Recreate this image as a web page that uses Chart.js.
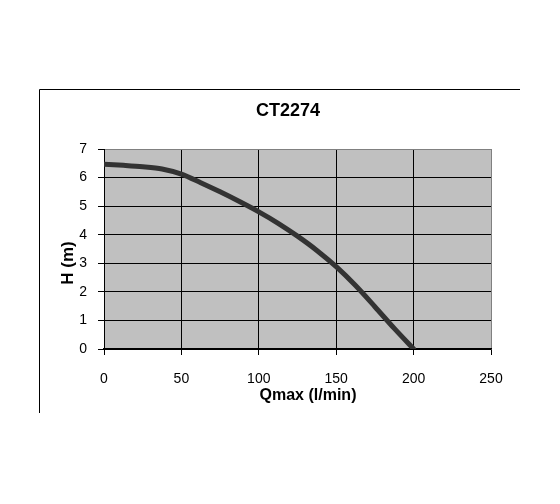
<!DOCTYPE html>
<html>
<head>
<meta charset="utf-8">
<script src="https://cdn.jsdelivr.net/npm/chart.js@4/dist/chart.umd.min.js"></script>
<style>
  html, body { margin: 0; padding: 0; background: #fff; }
  #wrap { width: 560px; height: 504px; }
</style>
</head>
<body>
<div id="wrap"><canvas id="pumpChart" width="560" height="504"></canvas></div>
<script>
// pump curve CT2274
const flowRates = [0, 12.5, 25, 37.5, 50, 62.5, 75, 87.5, 100, 112.5, 125, 137.5, 150, 162.5, 175, 187.5, 200];
const heads = [6.47, 6.43, 6.38, 6.3, 6.12, 5.82, 5.5, 5.16, 4.8, 4.4, 3.95, 3.45, 2.88, 2.22, 1.48, 0.72, 0];
const xTicks = [0, 50, 100, 150, 200, 250];
const yTicks = [0, 1, 2, 3, 4, 5, 6, 7];

const chartTitle = "CT2274";
const xTitle = "Qmax (l/min)";
const yTitle = "H (m)";

const FONT = "'Liberation Sans', Arial, sans-serif";

// white page, the two frame lines, grey plot area, titles
const framePlugin = {
  id: "frame",
  beforeDraw(chart) {
    const { ctx, chartArea: a } = chart;
    ctx.save();
    ctx.fillStyle = "#fff";
    ctx.fillRect(0, 0, chart.width, chart.height);
    ctx.strokeStyle = "#000";
    ctx.lineWidth = 1;
    ctx.beginPath();
    ctx.moveTo(39.5, 413);
    ctx.lineTo(39.5, 89.5);
    ctx.lineTo(520, 89.5);
    ctx.stroke();
    ctx.fillStyle = "#c0c0c0";
    ctx.fillRect(a.left, a.top, a.right - a.left, a.bottom - a.top);
    ctx.restore();
  },
  afterDraw(chart) {
    const { ctx } = chart;
    ctx.save();
    ctx.fillStyle = "#000";
    ctx.textAlign = "center";
    ctx.textBaseline = "middle";
    ctx.font = "bold 18px " + FONT;
    ctx.fillText(chartTitle, 288, 111);
    ctx.font = "bold 16px " + FONT;
    ctx.fillText(xTitle, 308, 396);
    ctx.font = "bold 17px " + FONT;
    ctx.translate(68, 263);
    ctx.rotate(-Math.PI / 2);
    ctx.fillText(yTitle, 0, 0);
    ctx.restore();
  },
};

const gridColor = (edge) => (ctx) => (ctx.tick && ctx.tick.value === edge ? "#808080" : "#000");

new Chart(document.getElementById("pumpChart"), {
  type: "scatter",
  data: {
    datasets: [{
      data: flowRates.map((q, i) => ({ x: q, y: heads[i] })),
      showLine: true,
      borderColor: "#333",
      borderWidth: 5,
      borderCapStyle: "round",
      tension: 0.3,
      pointRadius: 0,
      pointHoverRadius: 0,
    }],
  },
  options: {
    responsive: false,
    animation: false,
    events: [],
    layout: { padding: { top: 149, right: 69, left: 0, bottom: 0 } },
    plugins: {
      legend: { display: false },
      tooltip: { enabled: false },
      title: { display: false },
    },
    scales: {
      x: {
        type: "linear",
        min: 0,
        max: 250,
        afterFit(scale) { scale.height = 155; },
        afterBuildTicks(scale) { scale.ticks = xTicks.map((v) => ({ value: v })); },
        ticks: { color: "#000", padding: 16, font: { family: FONT, size: 14 } },
        grid: { color: gridColor(250), tickColor: "#000", tickLength: 6, lineWidth: 1 },
        border: { color: "#000", width: 1.5 },
      },
      y: {
        type: "linear",
        min: 0,
        max: 7,
        afterFit(scale) { scale.width = 104; },
        afterBuildTicks(scale) { scale.ticks = yTicks.map((v) => ({ value: v })); },
        ticks: { color: "#000", padding: 11, font: { family: FONT, size: 14 } },
        grid: { color: gridColor(7), tickColor: "#000", tickLength: 6, lineWidth: 1 },
        border: { color: "#000", width: 1 },
      },
    },
  },
  plugins: [framePlugin],
});
</script>
</body>
</html>
